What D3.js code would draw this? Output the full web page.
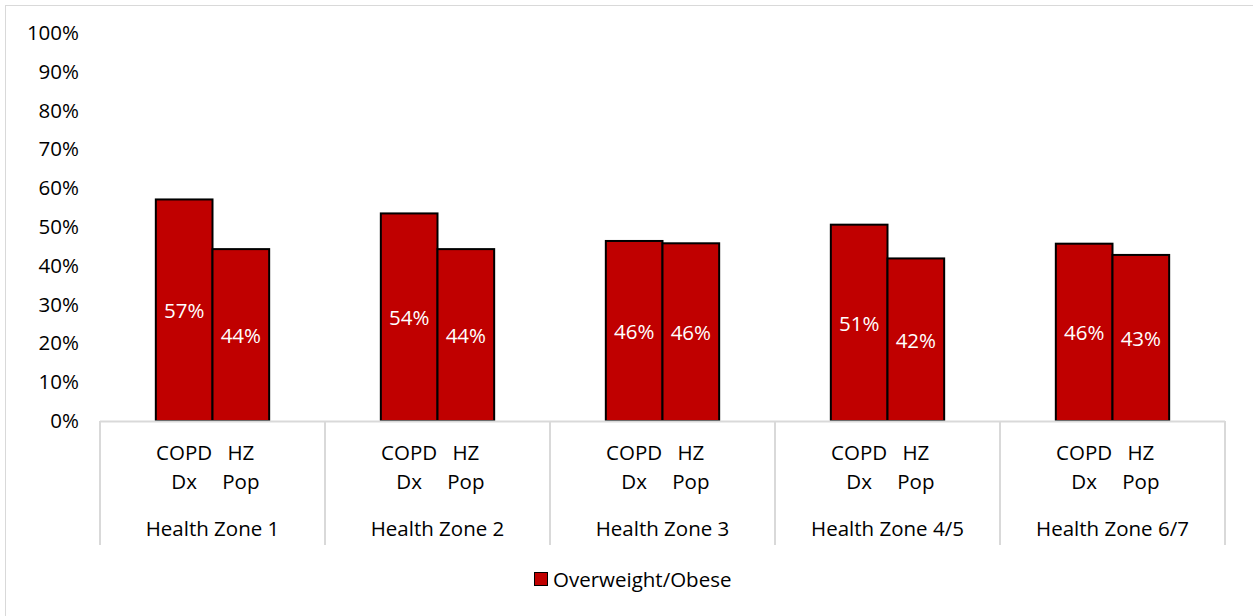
<!DOCTYPE html>
<html><head><meta charset="utf-8">
<script src="https://cdn.jsdelivr.net/npm/d3@7"></script>
<style>body{margin:0;background:#fff}svg{display:block}text{font-family:"Open Sans","Noto Sans",sans-serif}</style>
</head><body><svg id="c" width="1253" height="616"></svg>
<script>
const zones = ["Health Zone 1","Health Zone 2","Health Zone 3","Health Zone 4/5","Health Zone 6/7"];
const subs = ["COPD Dx","HZ Pop"];
const subLines = [["COPD","Dx"],["HZ","Pop"]];
const copdDx = [0.571, 0.535, 0.464, 0.506, 0.457];
const hzPop  = [0.443, 0.443, 0.458, 0.419, 0.428];
const yTicks = [0,0.1,0.2,0.3,0.4,0.5,0.6,0.7,0.8,0.9,1.0];
const seriesName = "Overweight/Obese";
const color = "#c00000";
const FS = 20.5;

const svg = d3.select("#c");
svg.append("rect").attr("x",5.5).attr("y",5.5).attr("width",1270).attr("height",630)
  .attr("fill","#fff").attr("stroke","#d9d9d9").attr("stroke-width",1);

const y = d3.scaleLinear().domain([0,1]).range([421,33]);
const x0 = d3.scaleBand().domain(zones).range([100,1225]).padding(0);
const x1 = d3.scaleBand().domain(subs).range([0,x0.bandwidth()]).paddingInner(0).paddingOuter(0.985);
const fmt = d3.format(".0%");

// y axis labels
const yAxis = d3.axisLeft(y).tickValues(yTicks).tickFormat(fmt).tickSize(0).tickPadding(0);
const ya = svg.append("g").attr("transform","translate(79,0)").call(yAxis);
ya.select(".domain").remove();
ya.selectAll("text").attr("font-size",FS).attr("fill","#000").attr("font-family","Open Sans");

// bars
const data = zones.map((z,i)=>({zone:z, vals:[copdDx[i],hzPop[i]]}));
const g = svg.append("g");
data.forEach(d=>{
  d.vals.forEach((v,j)=>{
    const bx = x0(d.zone)+x1(subs[j]);
    g.append("rect").attr("x",bx).attr("y",y(v)).attr("width",x1.bandwidth()).attr("height",y(0)-y(v))
      .attr("fill",color).attr("stroke","#000").attr("stroke-width",2);
  });
});
data.forEach(d=>{
  d.vals.forEach((v,j)=>{
    const cx = x0(d.zone)+x1(subs[j])+x1.bandwidth()/2;
    g.append("text").attr("x",cx).attr("y",(y(v)+y(0))/2).attr("text-anchor","middle")
      .attr("dominant-baseline","central").attr("font-size",FS).attr("fill","#fff").text(fmt(v));
  });
});

// category axis
const ax = svg.append("g");
ax.append("line").attr("x1",x0.range()[0]).attr("x2",x0.range()[1]).attr("y1",421.5).attr("y2",421.5)
  .attr("stroke","#d9d9d9").attr("stroke-width",2);
const seps = zones.map(z=>x0(z)).concat([x0.range()[1]]);
ax.selectAll("line.sep").data(seps).enter().append("line").attr("class","sep")
  .attr("x1",d=>d).attr("x2",d=>d).attr("y1",421).attr("y2",545).attr("stroke","#d9d9d9").attr("stroke-width",2);
zones.forEach(z=>{
  subs.forEach((s,j)=>{
    const cx = x0(z)+x1(s)+x1.bandwidth()/2;
    subLines[j].forEach((ln,k)=>{
      ax.append("text").attr("x",cx).attr("y",452+k*29).attr("text-anchor","middle")
        .attr("dominant-baseline","central").attr("font-size",FS).attr("fill","#000").text(ln);
    });
  });
  ax.append("text").attr("x",x0(z)+x0.bandwidth()/2).attr("y",528).attr("text-anchor","middle")
    .attr("dominant-baseline","central").attr("font-size",FS).attr("fill","#000").text(z);
});

// legend
const lg = svg.append("g");
lg.append("rect").attr("x",534.5).attr("y",572.5).attr("width",13).attr("height",13)
  .attr("fill",color).attr("stroke","#000").attr("stroke-width",1);
lg.append("text").attr("x",553).attr("y",579).attr("dominant-baseline","central")
  .attr("font-size",FS).attr("fill","#000").text(seriesName);
</script></body></html>
